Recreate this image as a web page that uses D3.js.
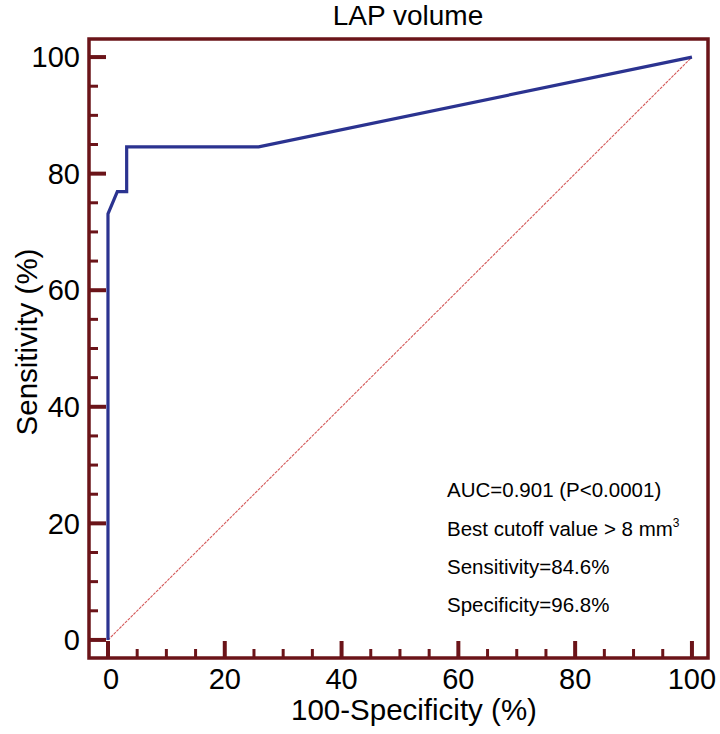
<!DOCTYPE html>
<html>
<head>
<meta charset="utf-8">
<script src="https://cdn.jsdelivr.net/npm/d3@7"></script>
<style>
  html, body { margin: 0; padding: 0; background: #fff; }
  text { font-family: "Liberation Sans", Arial, Helvetica, sans-serif; fill: #000; }
</style>
</head>
<body>
<svg id="chart" width="720" height="734"></svg>
<script>
// ---- data ----
const rocFPR = [0, 0, 1.6, 3.2, 3.2, 25.8, 100];      // 100-Specificity (%)
const rocTPR = [0, 73.1, 76.9, 76.9, 84.6, 84.6, 100]; // Sensitivity (%)
const majorTicks = [0, 20, 40, 60, 80, 100];
const minorTicks = [5, 10, 15, 25, 30, 35, 45, 50, 55, 65, 70, 75, 85, 90, 95];
const title = "LAP volume";
const xLabel = "100-Specificity (%)";
const yLabel = "Sensitivity (%)";
const annotations = ["AUC=0.901 (P<0.0001)", "Best cutoff value > 8 mm", "Sensitivity=84.6%", "Specificity=96.8%"];

// ---- layout ----
const svg = d3.select("#chart");
const frameColor = "#6b1419";
const x = d3.scaleLinear().domain([-3.25, 102.75]).range([89, 708]);
const y = d3.scaleLinear().domain([-3.1, 103.1]).range([658, 39]);

// diagonal reference
svg.append("line")
  .attr("x1", x(0)).attr("y1", y(0)).attr("x2", x(100)).attr("y2", y(100))
  .attr("stroke", "#d45a5a").attr("stroke-width", 1.1).attr("stroke-dasharray", "3,1");

// ROC curve
const pts = rocFPR.map((f, i) => [f, rocTPR[i]]);
svg.append("path")
  .attr("d", d3.line().x(d => x(d[0])).y(d => y(d[1]))(pts))
  .attr("fill", "none").attr("stroke", "#2b3390").attr("stroke-width", 3.2)
  .attr("stroke-linejoin", "miter");

// frame
svg.append("rect")
  .attr("x", x.range()[0]).attr("y", y.range()[1])
  .attr("width", x.range()[1] - x.range()[0]).attr("height", y.range()[0] - y.range()[1])
  .attr("fill", "none").attr("stroke", frameColor).attr("stroke-width", 3.5);

// axis ticks (inward)
const left = x.range()[0], bottom = y.range()[0];
svg.selectAll(".ymaj").data(majorTicks).join("line")
  .attr("x1", left).attr("x2", left + 17).attr("y1", d => y(d)).attr("y2", d => y(d))
  .attr("stroke", frameColor).attr("stroke-width", 4);
svg.selectAll(".ymin").data(minorTicks).join("line")
  .attr("x1", left).attr("x2", left + 9).attr("y1", d => y(d)).attr("y2", d => y(d))
  .attr("stroke", frameColor).attr("stroke-width", 3);
svg.selectAll(".xmaj").data(majorTicks).join("line")
  .attr("y1", bottom).attr("y2", bottom - 17).attr("x1", d => x(d)).attr("x2", d => x(d))
  .attr("stroke", frameColor).attr("stroke-width", 4);
svg.selectAll(".xmin").data(minorTicks).join("line")
  .attr("y1", bottom).attr("y2", bottom - 9).attr("x1", d => x(d)).attr("x2", d => x(d))
  .attr("stroke", frameColor).attr("stroke-width", 3);

// tick labels
svg.selectAll(".ylab").data(majorTicks).join("text")
  .attr("x", 80).attr("y", d => y(d)).attr("dy", "0.35em")
  .attr("text-anchor", "end").attr("font-size", 29).text(d => d);
svg.selectAll(".xlab").data(majorTicks).join("text")
  .attr("x", d => x(d) + (d === 0 ? 3 : 0)).attr("y", 689)
  .attr("text-anchor", "middle").attr("font-size", 29).text(d => d);

// axis titles
svg.append("text").attr("x", 414).attr("y", 720).attr("text-anchor", "middle")
  .attr("font-size", 29.5).text(xLabel);
svg.append("text").attr("transform", "translate(37,342) rotate(-90)")
  .attr("text-anchor", "middle").attr("font-size", 29.5).text(yLabel);
svg.append("text").attr("x", 408).attr("y", 25).attr("text-anchor", "middle")
  .attr("font-size", 28).text(title);

// annotations
const baselines = [497, 536, 574, 612];
annotations.forEach((t, i) => {
  const tx = svg.append("text").attr("x", 447).attr("y", baselines[i]).attr("font-size", 20.5);
  tx.append("tspan").text(t);
  if (i === 1) tx.append("tspan").attr("font-size", 12).attr("dy", -9).text("3");
});
</script>
</body>
</html>
